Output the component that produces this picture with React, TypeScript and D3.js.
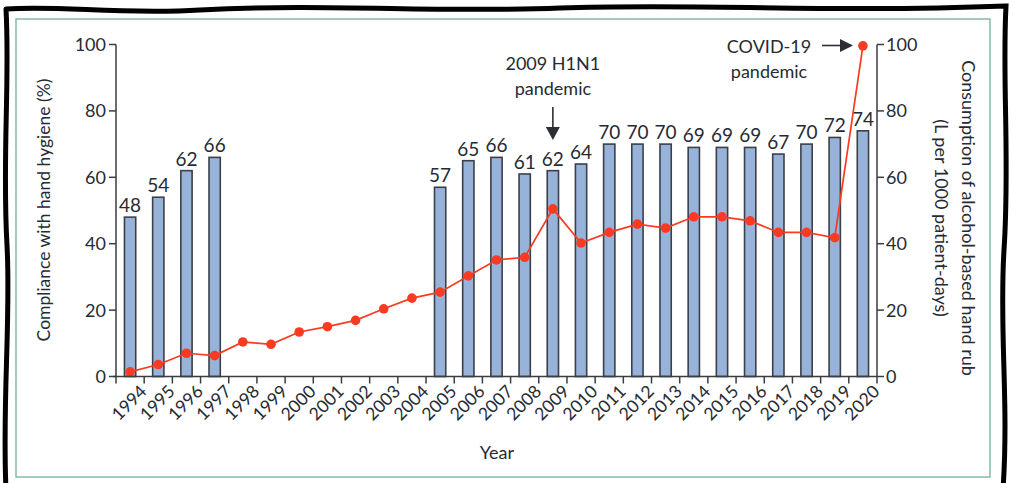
import React from "react";
import * as d3 from "d3";

const years = d3.range(1994, 2021).map(String);
const complianceYears = ["1994","1995","1996","1997","2005","2006","2007","2008","2009","2010","2011","2012","2013","2014","2015","2016","2017","2018","2019","2020"];
const complianceValues = [48,54,62,66,57,65,66,61,62,64,70,70,70,69,69,69,67,70,72,74];
const rubValues = [1.4,3.6,7.0,6.3,10.4,9.7,13.4,15.0,16.9,20.4,23.6,25.4,30.3,35.1,35.9,50.5,40.2,43.4,45.9,44.7,48.1,48.1,46.9,43.4,43.4,41.8,99.6];
const yTicks = [0,20,40,60,80,100];

const W = 1013, H = 483;
const FONT = "Lato, 'Open Sans', sans-serif";
const TXT = "#262b33";
const AX = "#3a3d42";
const ARROW = "#2b2e33";

export default function App() {
  const x = d3.scaleBand<string>().domain(years).range([116, 877]).padding(0);
  const yL = d3.scaleLinear().domain([0, 100]).range([376.5, 44.5]);
  const yR = d3.scaleLinear().domain([0, 100]).range([376.5, 44.5]);
  const bw = x.bandwidth() * 0.4;
  const cx = (y: string) => (x(y) as number) + x.bandwidth() / 2;
  const line = d3.line<number>().x((_, i) => cx(years[i])).y((d) => yR(d));
  const tickXs = years.map((y) => x(y) as number).concat([877]);
  const h1 = cx("2009");
  const covY = yR(100) + 1;

  const frame = "M6,9 C60,5 120,15 200,10 C330,3 430,13 560,8 C700,3 820,13 1006,6 " +
    "C1002,80 1010,160 1004,250 C999,330 1009,400 1003,490 " +
    "M6,9 C10,80 2,160 7,245 C11,320 2,400 6,490";

  return (
    <div style={{ position: "absolute", left: 0, top: 0 }}>
      <svg width={W} height={H} style={{ display: "block", background: "#fff" }} fontFamily={FONT}>
        <path d={frame} fill="none" stroke="#000" strokeWidth={5} strokeLinecap="round" />
        <rect x={16} y={19} width={974} height={458} fill="none" stroke="#86bba4" strokeWidth={1.5} />

        {/* bars */}
        {complianceYears.map((yr, i) => (
          <g key={yr}>
            <rect x={cx(yr) - bw / 2} y={yL(complianceValues[i])} width={bw}
              height={yL(0) - yL(complianceValues[i])} fill="#98b3d9" stroke="#3b4048" strokeWidth={1.6} />
            <text x={cx(yr)} y={yL(complianceValues[i]) - 5} textAnchor="middle" fontSize={19} fill={TXT}>
              {complianceValues[i]}
            </text>
          </g>
        ))}

        {/* line */}
        <path d={line(rubValues) || ""} fill="none" stroke="#fa3b22" strokeWidth={1.7} />
        {rubValues.map((v, i) => (
          <circle key={i} cx={cx(years[i])} cy={yR(v)} r={4.8} fill="#fa3b22" />
        ))}

        {/* left axis */}
        <line x1={116} x2={116} y1={yL(100)} y2={yL(0)} stroke={AX} strokeWidth={1.5} />
        {yTicks.map((t) => (
          <g key={"l" + t}>
            <line x1={109} x2={116} y1={yL(t)} y2={yL(t)} stroke={AX} strokeWidth={1.5} />
            <text x={106} y={yL(t)} dy="0.36em" textAnchor="end" fontSize={18} fill={TXT}>{t}</text>
          </g>
        ))}
        {/* right axis */}
        <line x1={877} x2={877} y1={yR(100)} y2={yR(0)} stroke={AX} strokeWidth={1.5} />
        {yTicks.map((t) => (
          <g key={"r" + t}>
            <line x1={877} x2={884} y1={yR(t)} y2={yR(t)} stroke={AX} strokeWidth={1.5} />
            <text x={886} y={yR(t)} dy="0.36em" textAnchor="start" fontSize={18} fill={TXT}>{t}</text>
          </g>
        ))}
        {/* bottom axis */}
        <line x1={113} x2={877} y1={376.5} y2={376.5} stroke={AX} strokeWidth={1.5} />
        {tickXs.map((tx, i) => (
          <line key={"bt" + i} x1={tx} x2={tx} y1={376.5} y2={383.5} stroke={AX} strokeWidth={1.5} />
        ))}
        {years.map((yr) => (
          <text key={"xl" + yr} transform={`translate(${cx(yr) + 9},${384}) rotate(-45)`}
            textAnchor="end" dy="0.7em" fontSize={17.5} fill={TXT}>{yr}</text>
        ))}

        {/* titles */}
        <text transform="translate(50,210) rotate(-90)" textAnchor="middle" fontSize={17.5} fill={TXT}>
          Compliance with hand hygiene (%)
        </text>
        <text transform="translate(962,218) rotate(90)" textAnchor="middle" fontSize={18} fill={TXT}>
          Consumption of alcohol-based hand rub
        </text>
        <text transform="translate(935,218) rotate(90)" textAnchor="middle" fontSize={18} fill={TXT}>
          (L per 1000 patient-days)
        </text>
        <text x={497} y={459} textAnchor="middle" fontSize={18} fill={TXT}>Year</text>

        {/* annotations */}
        <text x={h1} y={70} textAnchor="middle" fontSize={18} fill={TXT}>2009 H1N1</text>
        <text x={h1} y={95} textAnchor="middle" fontSize={18} fill={TXT}>pandemic</text>
        <line x1={h1} x2={h1} y1={107} y2={130} stroke={ARROW} strokeWidth={1.6} />
        <path d={`M${h1 - 7},${127} L${h1 + 7},${127} L${h1},${140} Z`} fill={ARROW} />
        <text x={769} y={53} textAnchor="middle" fontSize={18} fill={TXT}>COVID-19</text>
        <text x={769} y={78} textAnchor="middle" fontSize={18} fill={TXT}>pandemic</text>
        <line x1={822} x2={843} y1={covY} y2={covY} stroke={ARROW} strokeWidth={1.6} />
        <path d={`M${840},${covY - 6.5} L${840},${covY + 6.5} L${853},${covY} Z`} fill={ARROW} />
      </svg>
    </div>
  );
}
